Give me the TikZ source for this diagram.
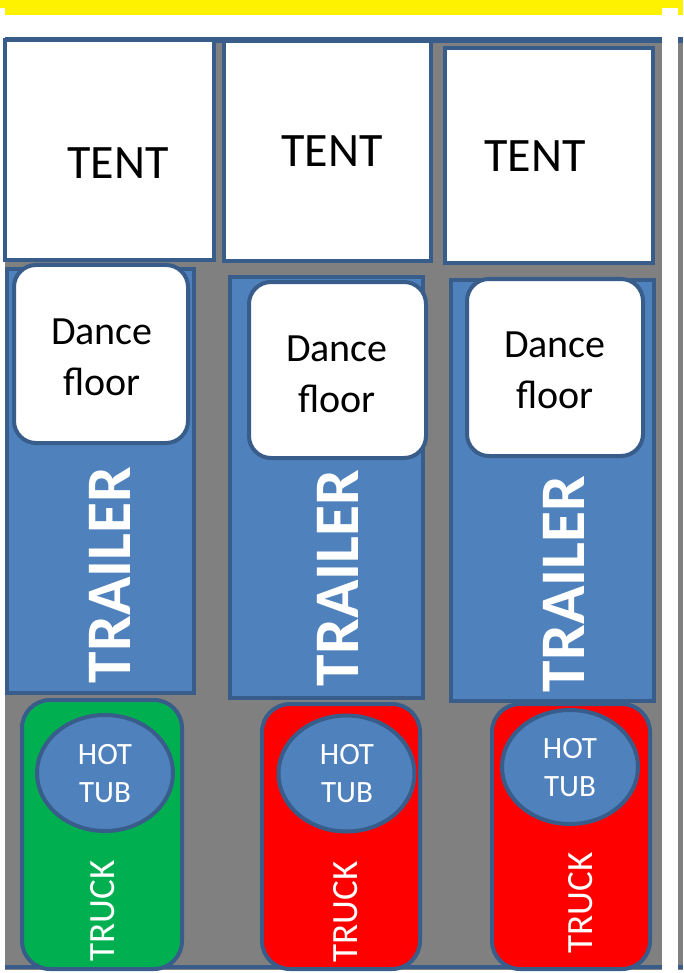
\documentclass[tikz,border=0pt]{standalone}
\usepackage{fontspec}
\setmainfont{Carlito}
\definecolor{edgeblue}{HTML}{385D8A}
\definecolor{fillblue}{HTML}{4F81BD}
\definecolor{fieldgray}{HTML}{808080}
\definecolor{truckgreen}{HTML}{00B050}
\begin{document}
\begin{tikzpicture}[x=1pt,y=-1pt,line width=4pt,every node/.style={inner sep=0pt},
    box/.style={draw=edgeblue},
    tentbox/.style={box,fill=white},
    trailerbox/.style={box,fill=fillblue},
    floorbox/.style={box,fill=white,rounded corners=22pt},
    truckbox/.style={box,rounded corners=28pt},
    tubshape/.style={box,fill=fillblue},
    tentlbl/.style={font=\fontsize{48}{58}\selectfont},
    floorlbl/.style={align=center,font=\fontsize{40}{51}\selectfont},
    trailerlbl/.style={rotate=90,text=white,font=\bfseries\fontsize{63.5}{70}\selectfont},
    tublbl/.style={align=center,text=white,font=\fontsize{31}{38}\selectfont},
    trucklbl/.style={rotate=90,text=white,font=\fontsize{37}{44}\selectfont}]
            \useasboundingbox(0,0)rectangle(683,973);
            % strip on top and the field
            \fill[yellow](0,0)rectangle(683,8);\fill[yellow](5,8)rectangle(662,15);
            \fill[yellow](678,8)rectangle(683,15);
            \fill[fieldgray](5,37)rectangle(662,970);\fill[fieldgray](678,37)rectangle(683,970);
            \draw[edgeblue,line width=6pt](5,40)--(662,40);\draw[edgeblue,line width=6pt](678,40)--(683,40);
            \draw[edgeblue](5,967)--(662,967);\draw[edgeblue](678,967)--(683,967);
            % tents
            \draw[tentbox](5,40)rectangle(214,260);
            \draw[tentbox](224,41)rectangle(431,261);
            \draw[tentbox](445,48)rectangle(653,263);
            \node[tentlbl](tent1)at(118,163){TENT};
            \node[tentlbl](tent2)at(332,151){TENT};
            \node[tentlbl](tent3)at(535,156){TENT};
            % trailers with dance floors
            \draw[trailerbox](7,269)rectangle(194,693);
            \draw[trailerbox](230,277)rectangle(423,698);
            \draw[trailerbox](451,280)rectangle(654,701);
            \draw[floorbox](14,265)rectangle(188,443);
            \draw[floorbox](249,282)rectangle(426,458);
            \draw[floorbox](467,279)rectangle(643,456);
            \node[floorlbl](floor1)at(102,357){Dance\\floor};
            \node[floorlbl](floor2)at(337,374){Dance\\floor};
            \node[floorlbl](floor3)at(555,370){Dance\\floor};
            \node[trailerlbl](trailer1)at(110,575){TRAILER};
            \node[trailerlbl](trailer2)at(338,578){TRAILER};
            \node[trailerlbl](trailer3)at(564,584){TRAILER};
            % trucks with hot tubs
            \draw[truckbox,fill=truckgreen](22,700)rectangle(182,969);
            \draw[truckbox,fill=red](262,704)rectangle(420,969);
            \draw[truckbox,fill=red](492,704)rectangle(650,969);
            \draw[tubshape](105,773)ellipse[x radius=68,y radius=58];
            \draw[tubshape](346.5,773.5)ellipse[x radius=68,y radius=58];
            \draw[tubshape](570,767)ellipse[x radius=68,y radius=57];
            \node[tublbl](tub1)at(105,774){HOT\\TUB};
            \node[tublbl](tub2)at(347,774){HOT\\TUB};
            \node[tublbl](tub3)at(570,768){HOT\\TUB};
            \node[trucklbl](truck1)at(103,911){TRUCK};
            \node[trucklbl](truck2)at(346,912){TRUCK};
            \node[trucklbl](truck3)at(581,903){TRUCK};
        \end{tikzpicture}
\end{document}
